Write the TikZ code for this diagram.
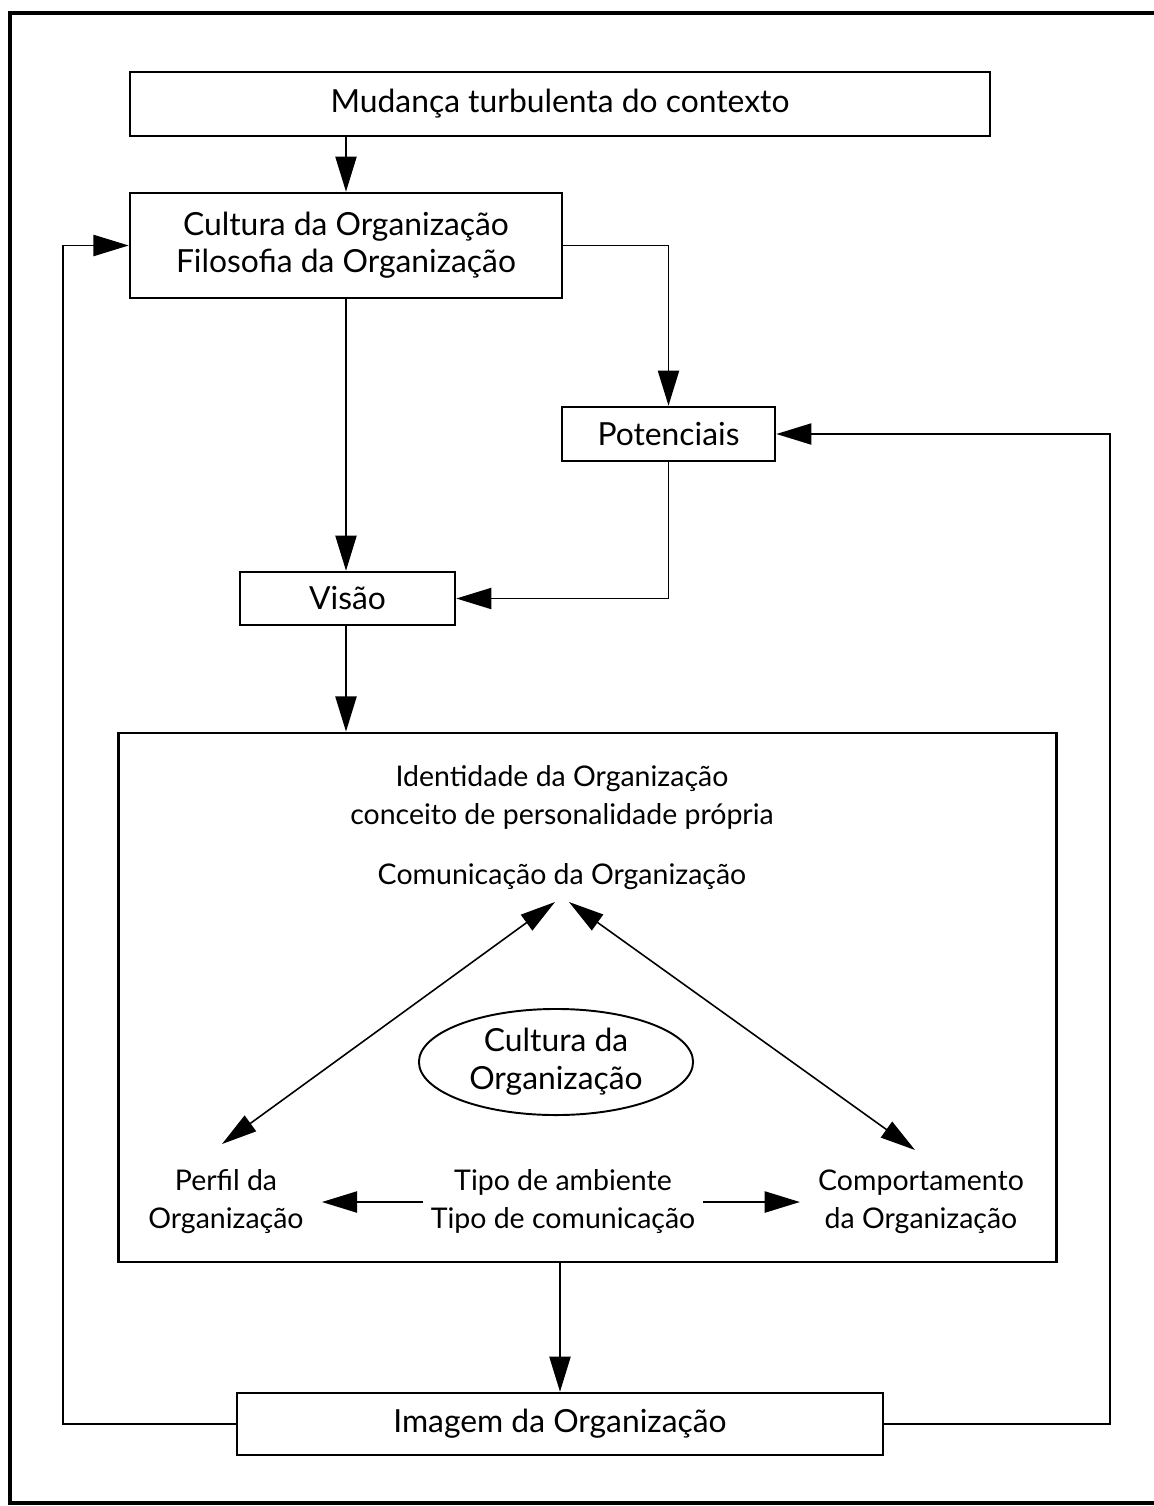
\documentclass[tikz,border=0pt]{standalone}
\usepackage{fontspec}
\setmainfont{Lato}
\usetikzlibrary{arrows.meta,shapes.geometric}

\begin{document}
\begin{tikzpicture}[x=0.01cm,y=-0.01cm,
  caixa/.style={draw,line width=0.7pt,inner sep=0pt,align=center,font=\fontsize{9.05}{10.5}\selectfont},
  texto/.style={inner sep=2pt,align=center,font=\fontsize{8.1}{10.8}\selectfont},
  seta/.style={-{Triangle[length=10pt,width=6pt]},line width=0.55pt},
  dupla/.style={{Triangle[length=10pt,width=5.5pt]}-{Triangle[length=10pt,width=5.5pt]},line width=0.45pt}]
\useasboundingbox (0,0) rectangle (1153,1506);
%Moldura
\draw[line width=1.3pt] (1160,13) -- (10,13) -- (10,1503) -- (1160,1503);
%Caixas
\node[caixa,minimum width=8.6cm,minimum height=0.64cm] (mud) at (560,104) {Mudança turbulenta do contexto};
\node[caixa,minimum width=4.32cm,minimum height=1.05cm] (cult) at (346,245.5) {Cultura da Organização\\Filosofia da Organização};
\node[caixa,minimum width=2.13cm,minimum height=0.54cm] (pot) at (668.5,434) {Potenciais};
\node[caixa,minimum width=2.15cm,minimum height=0.53cm] (vis) at (347.5,598.5) {Visão};
\node[draw,line width=0.7pt,inner sep=0pt,minimum width=9.37cm,minimum height=5.29cm] (ident) at (587.5,997.5) {};
\node[caixa,minimum width=6.46cm,minimum height=0.62cm] (img) at (560,1424) {Imagem da Organização};
%Identidade
\node[texto] (tit) at (562,797) {Identidade da Organização\\conceito de personalidade própria};
\node[texto] (com) at (562,877) {Comunicação da Organização};
\node[ellipse,draw,line width=0.55pt,minimum width=2.74cm,minimum height=1.06cm,inner sep=0pt,align=center,font=\fontsize{9.05}{10.8}\selectfont] (elip) at (556,1062) {Cultura da\\Organização};
\node[texto] (perf) at (226,1202) {Perfil da\\Organização};
\node[texto] (tipo) at (563,1202) {Tipo de ambiente\\Tipo de comunicação};
\node[texto] (comp) at (921,1202) {Comportamento\\da Organização};
\coordinate (apE) at (555,902);
\coordinate (apD) at (569,902);
\coordinate (pE) at (222,1144);
\coordinate (pD) at (915,1150);
\coordinate (retE) at (63,1424);
\coordinate (retD) at (1110,1424);
%Setas
\draw[seta] (mud.south -| cult) -- (cult);
\draw[seta] (cult.east) -| (pot.north);
\draw[seta] (cult) -- (cult |- vis.north);
\draw[seta] (pot.south) |- (vis.east);
\draw[seta] (cult |- vis.south) -- (cult |- ident.north);
\draw[seta] (ident.south -| img) -- (img.north);
\draw[seta] (img.west) -- (retE) |- (cult.west);
\draw[seta] (img.east) -- (retD) |- (pot.east);
\draw[dupla] (apE) -- (pE);
\draw[dupla] (apD) -- (pD);
\draw[seta,shorten >=3pt] (tipo) -- (perf);
\draw[seta,shorten >=3pt] (tipo) -- (comp);
\end{tikzpicture}
\end{document}
